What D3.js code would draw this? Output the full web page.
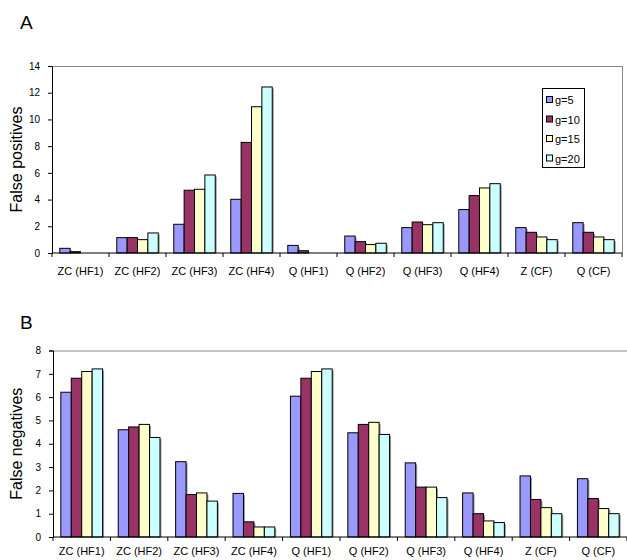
<!DOCTYPE html>
<html><head><meta charset="utf-8">
<script src="https://cdn.jsdelivr.net/npm/d3@7/dist/d3.min.js"></script>
<style>body{margin:0;background:#fff}svg{display:block}text{font-family:"Liberation Sans",Arial,sans-serif}</style>
</head><body><svg id="c" width="627" height="560"></svg>
<script>
const categories = ["ZC (HF1)","ZC (HF2)","ZC (HF3)","ZC (HF4)","Q (HF1)","Q (HF2)","Q (HF3)","Q (HF4)","Z (CF)","Q (CF)"];
const seriesNames = ["g=5","g=10","g=15","g=20"];
const colors = ["#9999FF","#993366","#FFFFCC","#CCFFFF"];
// False positives (panel A)
const fpG5  = [0.35,1.15,2.15,4.02,0.57,1.27,1.90,3.25,1.90,2.27];
const fpG10 = [0.10,1.15,4.70,8.28,0.17,0.85,2.32,4.30,1.55,1.55];
const fpG15 = [0.00,1.00,4.77,10.95,0.00,0.63,2.12,4.87,1.20,1.20];
const fpG20 = [0.00,1.50,5.84,12.43,0.00,0.73,2.27,5.19,1.00,1.00];
// False negatives (panel B)
const fnG5  = [6.21,4.60,3.23,1.87,6.04,4.47,3.18,1.89,2.62,2.50];
const fnG10 = [6.81,4.72,1.82,0.65,6.81,4.83,2.14,1.00,1.61,1.65];
const fnG15 = [7.10,4.83,1.89,0.43,7.10,4.92,2.14,0.69,1.26,1.22];
const fnG20 = [7.21,4.27,1.54,0.43,7.21,4.40,1.69,0.62,1.00,1.00];
const ticksA = [0,2,4,6,8,10,12,14];
const ticksB = [0,1,2,3,4,5,6,7,8];

const svg = d3.select("#c");

function panel(cfg){
  const g = svg.append("g");
  const x = d3.scaleBand().domain(categories).range([cfg.x0, cfg.x1]).paddingInner(0).paddingOuter(0);
  const y = d3.scaleLinear().domain([0, cfg.max]).range([cfg.y0, cfg.y1]);
  const bw = x.bandwidth()/5.5;
  // border (gray)
  g.append("line").attr("x1",cfg.x0).attr("x2",cfg.x1).attr("y1",cfg.y1+0.5).attr("y2",cfg.y1+0.5).attr("stroke","#888").attr("stroke-width",1);
  if (cfg.rightBorder) g.append("line").attr("x1",cfg.x1+0.5).attr("x2",cfg.x1+0.5).attr("y1",cfg.y1).attr("y2",cfg.y0).attr("stroke","#888");
  // shadows
  cfg.series.forEach((vals, si) => {
    vals.forEach((v, ci) => {
      if (v <= 0) return;
      const bx = x(categories[ci]) + 0.75*bw + si*bw;
      const by = y(v);
      const h = y(0) - by;
      g.append("rect").attr("x",bx+1.5).attr("y",by+1.5).attr("width",bw).attr("height",Math.max(0,h-1.5)).attr("fill","#999");
    });
  });
  // bars
  cfg.series.forEach((vals, si) => {
    vals.forEach((v, ci) => {
      if (v <= 0) return;
      const bx = x(categories[ci]) + 0.75*bw + si*bw;
      const by = y(v);
      g.append("rect").attr("x",bx).attr("y",by).attr("width",bw).attr("height",y(0)-by)
        .attr("fill",colors[si]).attr("stroke","#000").attr("stroke-width",1);
    });
  });
  // y axis
  const ya = d3.axisLeft(y).tickValues(cfg.ticks).tickSize(4).tickPadding(8).tickFormat(d3.format("d"));
  const yg = g.append("g").attr("transform",`translate(${cfg.x0},0)`).call(ya);
  yg.select(".domain").attr("stroke","#000");
  yg.selectAll("text").attr("font-size",10).attr("fill","#000").style("font-family","Liberation Sans, Arial, sans-serif");
  // x axis
  g.append("line").attr("x1",cfg.x0).attr("x2",cfg.x1).attr("y1",y(0)).attr("y2",y(0)).attr("stroke","#000");
  const bounds = d3.range(categories.length+1).map(i => cfg.x0 + i*x.bandwidth());
  g.selectAll(".xt").data(bounds).join("line").attr("x1",d=>d).attr("x2",d=>d).attr("y1",y(0)).attr("y2",y(0)+4).attr("stroke","#000");
  g.selectAll(".xl").data(categories).join("text").attr("x",d=>x(d)+x.bandwidth()/2).attr("y",cfg.labelY)
    .attr("text-anchor","middle").attr("font-size",11).text(d=>d);
  // y title
  g.append("text").attr("transform",`translate(${cfg.titleX},${(cfg.y0+cfg.y1)/2}) rotate(-90)`).attr("text-anchor","middle")
    .attr("font-size",16).text(cfg.title);
  // panel letter
  g.append("text").attr("x",20).attr("y",cfg.letterY).attr("font-size",19).text(cfg.letter);
  return {x,y};
}

panel({x0:52,x1:622,y0:253,y1:66,max:14,ticks:ticksA,series:[fpG5,fpG10,fpG15,fpG20],labelY:275,title:"False positives",titleX:22,letter:"A",letterY:29,rightBorder:true});
panel({x0:53,x1:627,y0:537,y1:350.5,max:8,ticks:ticksB,series:[fnG5,fnG10,fnG15,fnG20],labelY:555,title:"False negatives",titleX:22,letter:"B",letterY:329,rightBorder:false});

// legend for panel A
const lg = svg.append("g");
lg.append("rect").attr("x",542.5).attr("y",88.5).attr("width",42).attr("height",79).attr("fill","#fff").attr("stroke","#000");
seriesNames.forEach((n,i)=>{
  const cy = 100 + i*19.5;
  lg.append("rect").attr("x",546.5).attr("y",cy-3.5).attr("width",6).attr("height",6).attr("fill",colors[i]).attr("stroke","#000");
  lg.append("text").attr("x",555).attr("y",cy+4).attr("font-size",11).text(n);
});
</script></body></html>
